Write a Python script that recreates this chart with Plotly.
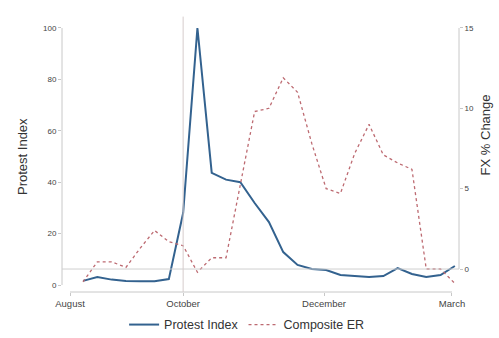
import plotly.graph_objects as go

# Weekly observations (index 0..26)
week = list(range(27))
protest_index = [1.6, 3.1, 2.1, 1.6, 1.5, 1.5, 2.3, 28, 100, 43.6, 41, 40, 31.9, 24.5,
                 12.8, 7.8, 6.2, 5.8, 3.9, 3.5, 3.1, 3.5, 6.6, 4.3, 3.1, 3.9, 7.4]
composite_er = [-0.8, 0.45, 0.45, 0.1, 1.3, 2.4, 1.7, 1.45, -0.2, 0.7, 0.7, 5.2, 9.8, 10.0,
                11.9, 11.0, 7.8, 5.0, 4.7, 7.2, 9.0, 7.1, 6.6, 6.2, 0.0, 0.0, -0.9]

x_tick_pos = [-0.91, 7, 16.85, 25.8]
x_tick_labels = ["August", "October", "December", "March"]
y1_ticks = [0, 20, 40, 60, 80, 100]
y2_ticks = [0, 5, 10, 15]
october_line = 7

FONT = "Liberation Sans, Arial, sans-serif"
AX = "#c8c8c8"

fig = go.Figure()
fig.add_trace(go.Scatter(x=week, y=protest_index, mode="lines", name="Protest Index",
                         line=dict(color="#33628f", width=2), yaxis="y"))
fig.add_trace(go.Scatter(x=week, y=composite_er, mode="lines", name="Composite ER",
                         line=dict(color="#bd6a71", width=1.3, dash="dot"), yaxis="y2"))

W, H = 499, 338
L, R, T, B = 62, 40, 22, 46

fig.update_layout(
    width=W, height=H,
    margin=dict(l=L, r=R, t=T, b=B, autoexpand=False),
    paper_bgcolor="white", plot_bgcolor="white",
    font=dict(family=FONT, color="#333333"),
    showlegend=True,
    legend=dict(orientation="h", x=0.465, xanchor="center", y=-0.122, yanchor="middle",
                font=dict(size=12.5, color="#333333"), itemwidth=30,
                bgcolor="rgba(0,0,0,0)"),
    xaxis=dict(range=[-1.47, 26.29], tickmode="array", tickvals=x_tick_pos,
               ticktext=x_tick_labels, showgrid=False, zeroline=False, showline=False,
               ticks="outside", ticklen=3, tickcolor=AX,
               tickfont=dict(size=9.5, color="#444444"), automargin=False),
    yaxis=dict(range=[-2.72, 102.33], tickmode="array", tickvals=y1_ticks,
               showgrid=False, zeroline=False, showline=False,
               ticks="outside", ticklen=3, tickcolor=AX,
               tickfont=dict(size=8, color="#444444"), automargin=False),
    yaxis2=dict(range=[-1.43, 15.37], tickmode="array", tickvals=y2_ticks,
                overlaying="y", side="right", showgrid=False, zeroline=False,
                showline=False, ticks="outside", ticklen=3, tickcolor=AX,
                tickfont=dict(size=8, color="#444444"), automargin=False),
)

shapes = [
    # left axis line (0..100)
    dict(type="line", xref="paper", yref="y", x0=0, x1=0, y0=0, y1=100,
         line=dict(color=AX, width=1)),
    # right axis line (0..15)
    dict(type="line", xref="paper", yref="y2", x0=1, x1=1, y0=0, y1=15,
         line=dict(color=AX, width=1)),
    # bottom axis line
    dict(type="line", xref="x", yref="paper", x0=x_tick_pos[0], x1=x_tick_pos[-1], y0=0, y1=0,
         line=dict(color=AX, width=1)),
    # zero line of FX change
    dict(type="line", xref="paper", yref="y2", x0=0, x1=1, y0=0, y1=0,
         line=dict(color="#cfcfcf", width=1)),
    # October marker
    dict(type="line", xref="x", yref="paper", x0=october_line, x1=october_line, y0=0, y1=1.02,
         line=dict(color="#d6cccc", width=1)),
]
fig.update_layout(shapes=shapes)

fig.add_annotation(text="Protest Index", xref="paper", yref="paper",
                   x=-40 / (W - L - R), y=0.5, xanchor="center", yanchor="middle",
                   textangle=-90, showarrow=False, font=dict(size=13, color="#333333"))
fig.add_annotation(text="FX % Change", xref="paper", yref="paper",
                   x=1 + 26 / (W - L - R), y=0.58, xanchor="center", yanchor="middle",
                   textangle=-90, showarrow=False, font=dict(size=13, color="#333333"))

fig.write_html("out.html")
